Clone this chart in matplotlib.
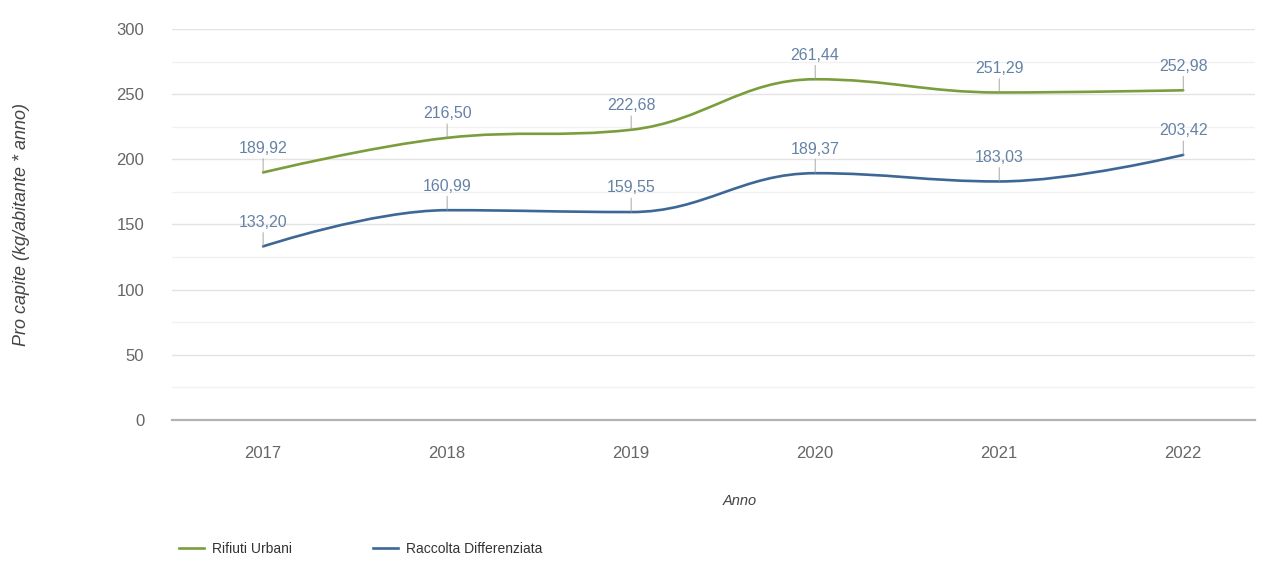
import matplotlib
matplotlib.use('Agg')
import matplotlib.pyplot as plt
import numpy as np
from matplotlib.path import Path
from matplotlib.patches import PathPatch
from matplotlib.lines import Line2D

plt.rcParams['font.family'] = ['Liberation Sans', 'DejaVu Sans']

anni = ['2017', '2018', '2019', '2020', '2021', '2022']
rifiuti_urbani = [189.92, 216.50, 222.68, 261.44, 251.29, 252.98]
raccolta_diff = [133.20, 160.99, 159.55, 189.37, 183.03, 203.42]

verde = '#7a9e3c'
blu = '#3d6896'
col_label = '#6582a6'


def spline_path(xs, ys, smoothing=1.5):
    # spline tipo highcharts: bezier cubiche passanti per i punti
    n = len(xs)
    left = [(xs[i], ys[i]) for i in range(n)]
    right = [(xs[i], ys[i]) for i in range(n)]
    den = smoothing + 1
    for i in range(1, n - 1):
        x, y = xs[i], ys[i]
        lx, ly = xs[i - 1], ys[i - 1]
        nx, ny = xs[i + 1], ys[i + 1]
        lcx = (smoothing * x + lx) / den
        lcy = (smoothing * y + ly) / den
        rcx = (smoothing * x + nx) / den
        rcy = (smoothing * y + ny) / den
        corr = ((rcy - lcy) * (rcx - x)) / (rcx - lcx) + y - rcy
        lcy += corr
        rcy += corr
        if lcy > ly and lcy > y:
            lcy = max(ly, y); rcy = 2 * y - lcy
        elif lcy < ly and lcy < y:
            lcy = min(ly, y); rcy = 2 * y - lcy
        if rcy > ny and rcy > y:
            rcy = max(ny, y); lcy = 2 * y - rcy
        elif rcy < ny and rcy < y:
            rcy = min(ny, y); lcy = 2 * y - rcy
        left[i] = (lcx, lcy)
        right[i] = (rcx, rcy)
    verts = [(xs[0], ys[0])]
    codes = [Path.MOVETO]
    for i in range(1, n):
        verts += [right[i - 1], left[i], (xs[i], ys[i])]
        codes += [Path.CURVE4] * 3
    return Path(verts, codes)


fig = plt.figure(figsize=(12.69, 5.66), dpi=100)
ax = fig.add_axes([172 / 1269, 1 - 420 / 566, (1255 - 172) / 1269, (420 - 29) / 566])

x = np.arange(len(anni))
for serie, col in [(rifiuti_urbani, verde), (raccolta_diff, blu)]:
    p = spline_path(list(x), serie)
    ax.add_patch(PathPatch(p, facecolor='none', edgecolor=col, lw=1.9,
                           capstyle='round', zorder=3))
    for xi, v in zip(x, serie):
        ax.annotate(f'{v:.2f}'.replace('.', ','), xy=(xi, v), xytext=(0, 12),
                    textcoords='offset points', ha='center', va='bottom',
                    fontsize=11.5, color=col_label, zorder=4,
                    arrowprops=dict(arrowstyle='-', color='#999999', lw=0.6,
                                    shrinkA=0, shrinkB=0))

ax.set_xlim(-0.495, 5.39)
ax.set_ylim(0, 300)
ax.set_xticks(x)
ax.set_xticklabels(anni)
ax.set_yticks(np.arange(0, 301, 50))
ax.set_yticks(np.arange(25, 300, 50), minor=True)
ax.grid(axis='y', which='major', color='#e3e3e3', lw=1)
ax.grid(axis='y', which='minor', color='#f1f1f1', lw=1)
ax.set_axisbelow(True)
for s in ['top', 'right', 'left']:
    ax.spines[s].set_visible(False)
ax.spines['bottom'].set_color('#b3b3b3')
ax.spines['bottom'].set_linewidth(1.6)
ax.tick_params(axis='both', which='both', length=0, colors='#666666', labelsize=12)
ax.tick_params(axis='x', pad=19)
ax.tick_params(axis='y', pad=20)

fig.text(22 / 1269, 1 - 225 / 566, 'Pro capite (kg/abitante * anno)', fontsize=13,
         style='italic', color='#444444', rotation=90, ha='center', va='center')
fig.text(740 / 1269, 1 - 501 / 566, 'Anno', fontsize=10.5, style='italic',
         color='#444444', ha='center', va='center')

handles = [Line2D([], [], color=verde, lw=1.9), Line2D([], [], color=blu, lw=1.9)]
fig.legend(handles, ['Rifiuti Urbani', 'Raccolta Differenziata'], loc='center left',
           bbox_to_anchor=(179 / 1269, 1 - 549 / 566), ncol=2, frameon=False,
           fontsize=10, handlelength=1.8, columnspacing=5.8, handletextpad=0.6,
           borderpad=0, borderaxespad=0, labelcolor='#333333')

fig.savefig('out.png', dpi=100)
